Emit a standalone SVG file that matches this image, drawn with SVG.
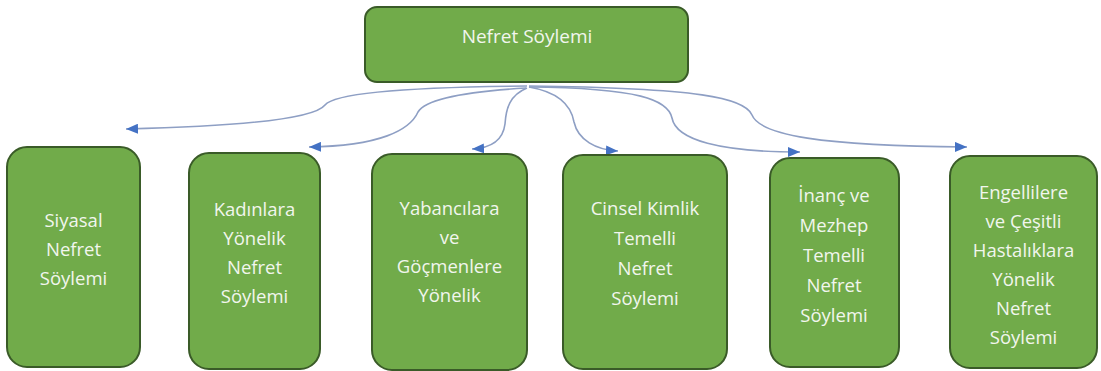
<svg xmlns="http://www.w3.org/2000/svg" width="1101" height="371" viewBox="0 0 1101 371">
<style>
.box{fill:#71AB4A;stroke:#3A5B28;stroke-width:2}
.t{font-family:"Open Sans","Noto Sans","Liberation Sans",sans-serif;font-size:18.5px;fill:#F1F6EE;text-anchor:middle}
.tt{font-size:19px}
.c{fill:none;stroke:#8E9FC4;stroke-width:1.6}
</style>
<defs>
<marker id="ah" markerUnits="userSpaceOnUse" markerWidth="13" markerHeight="10" refX="12" refY="5" orient="auto">
<path d="M0,0 L12,5 L0,10 z" fill="#4472C4"/>
</marker>
</defs>
<rect width="1101" height="371" fill="#FFFFFF"/>
<g id="connectors">
<path class="c" marker-end="url(#ah)" d="M527 86 C420 87,335 92,325 105 C315 118,250 126,126 129"/>
<path class="c" marker-end="url(#ah)" d="M526 88 C460 92,425 100,418 112 C410 130,380 146,309 147"/>
<path class="c" marker-end="url(#ah)" d="M527 88 C510 95,506 108,505 124 C503 140,492 148,472 149"/>
<path class="c" marker-end="url(#ah)" d="M529 87 C558 92,571 105,574 122 C578 140,596 150,618 151"/>
<path class="c" marker-end="url(#ah)" d="M529 87 C640 88,668 100,672 118 C676 140,720 152,800 152"/>
<path class="c" marker-end="url(#ah)" d="M529 86 C700 88,745 98,752 115 C760 135,820 146,967 147"/>
</g>
<g id="root">
<rect class="box" x="365" y="7" width="323" height="75" rx="12"/>
<text class="t tt" x="527" y="43">Nefret Söylemi</text>
</g>
<g id="n1">
<rect class="box" x="7" y="147" width="133" height="220" rx="20"/>
<text class="t" x="73.5" y="227">Siyasal</text>
<text class="t" x="73.5" y="256">Nefret</text>
<text class="t" x="73.5" y="285">Söylemi</text>
</g>
<g id="n2">
<rect class="box" x="189" y="153" width="131" height="216" rx="20"/>
<text class="t" x="254.5" y="216">Kadınlara</text>
<text class="t" x="254.5" y="245">Yönelik</text>
<text class="t" x="254.5" y="274">Nefret</text>
<text class="t" x="254.5" y="303">Söylemi</text>
</g>
<g id="n3">
<rect class="box" x="372" y="154" width="155" height="216" rx="20"/>
<text class="t" x="449.5" y="215">Yabancılara</text>
<text class="t" x="449.5" y="244">ve</text>
<text class="t" x="449.5" y="273">Göçmenlere</text>
<text class="t" x="449.5" y="302">Yönelik</text>
</g>
<g id="n4">
<rect class="box" x="563" y="155" width="164" height="214" rx="20"/>
<text class="t" x="645" y="215">Cinsel Kimlik</text>
<text class="t" x="645" y="245">Temelli</text>
<text class="t" x="645" y="275">Nefret</text>
<text class="t" x="645" y="305">Söylemi</text>
</g>
<g id="n5">
<rect class="box" x="770" y="158" width="129" height="209" rx="20"/>
<text class="t" x="834" y="202">İnanç ve</text>
<text class="t" x="834" y="232">Mezhep</text>
<text class="t" x="834" y="262">Temelli</text>
<text class="t" x="834" y="292">Nefret</text>
<text class="t" x="834" y="322">Söylemi</text>
</g>
<g id="n6">
<rect class="box" x="950" y="156" width="147" height="212" rx="20"/>
<text class="t" x="1023.5" y="199">Engellilere</text>
<text class="t" x="1023.5" y="228">ve Çeşitli</text>
<text class="t" x="1023.5" y="257">Hastalıklara</text>
<text class="t" x="1023.5" y="286">Yönelik</text>
<text class="t" x="1023.5" y="315">Nefret</text>
<text class="t" x="1023.5" y="344">Söylemi</text>
</g>
</svg>
